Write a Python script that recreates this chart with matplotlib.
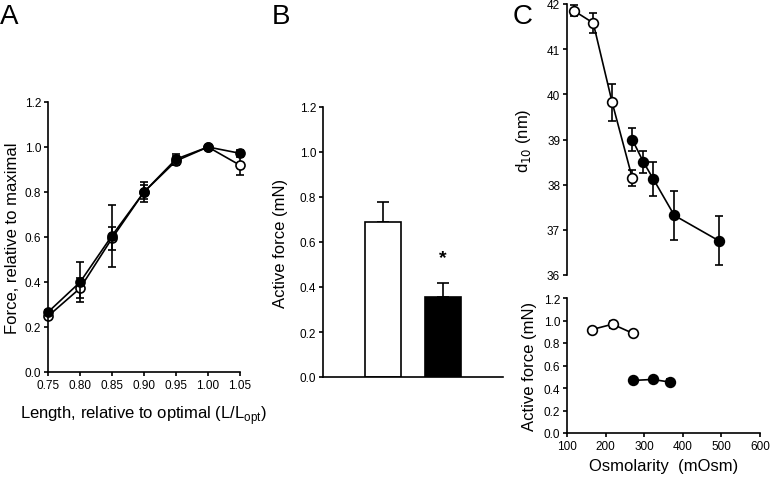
import matplotlib
matplotlib.use("Agg")
import matplotlib.pyplot as plt

plt.rcParams['font.family'] = ['Liberation Sans', 'DejaVu Sans']
plt.rcParams['axes.linewidth'] = 1.2
plt.rcParams['xtick.direction'] = 'out'
plt.rcParams['ytick.direction'] = 'out'
plt.rcParams['xtick.major.size'] = 3
plt.rcParams['ytick.major.size'] = 3
plt.rcParams['xtick.major.width'] = 1.2
plt.rcParams['ytick.major.width'] = 1.2

# Panel A: force-length
len_x = [0.75, 0.80, 0.85, 0.90, 0.95, 1.00, 1.05]
a_open = [0.248, 0.372, 0.594, 0.80, 0.938, 1.0, 0.919]
a_open_err = [0.01, 0.045, 0.05, 0.045, 0.02, 0.0, 0.045]
a_fill = [0.266, 0.399, 0.606, 0.80, 0.946, 1.0, 0.972]
a_fill_err = [0.01, 0.088, 0.138, 0.03, 0.025, 0.0, 0.015]

# Panel B: active force bars
b_vals = [0.69, 0.355]
b_err = [0.09, 0.065]
b_colors = ['white', 'black']

# Panel C top: d10 vs osmolarity
c_open_x = [118, 168, 217, 269]
c_open_y = [41.85, 41.58, 39.82, 38.15]
c_open_err = [0.12, 0.22, 0.4, 0.17]
c_fill_x = [269, 298, 324, 378, 493]
c_fill_y = [39.0, 38.5, 38.12, 37.32, 36.76]
c_fill_err = [0.25, 0.25, 0.38, 0.55, 0.54]

# Panel C bottom: active force vs osmolarity
f_open_x = [165, 218, 270]
f_open_y = [0.92, 0.967, 0.887]
f_open_err = [0.0, 0.03, 0.0]
f_fill_x = [270, 322, 368]
f_fill_y = [0.467, 0.476, 0.452]
f_fill_err = [0.025, 0.025, 0.025]

yt = [0, 0.2, 0.4, 0.6, 0.8, 1.0, 1.2]

W, H = 770, 481
fig = plt.figure(figsize=(7.7, 4.81), dpi=100)


def px_axes(l, t, r, b):
    return fig.add_axes([l / W, 1 - b / H, (r - l) / W, (b - t) / H])


def style(ax):
    ax.spines['top'].set_visible(False)
    ax.spines['right'].set_visible(False)
    ax.tick_params(labelsize=8.5, pad=2)


def series(ax, x, y, err, filled, ms=7):
    ax.errorbar(x, y, yerr=err, fmt='-o', color='black', lw=1.2,
                ms=ms, mfc='black' if filled else 'white', mec='black',
                mew=1.2, ecolor='black', elinewidth=1.2, capsize=2.8,
                capthick=1.2, clip_on=False, zorder=3 if filled else 2)


# A
axA = px_axes(48, 103, 240, 373)
style(axA)
series(axA, len_x, a_open, a_open_err, False, ms=6.5)
series(axA, len_x, a_fill, a_fill_err, True, ms=6.5)
axA.set_xlim(0.75, 1.05)
axA.set_ylim(0, 1.2)
axA.set_xticks(len_x)
axA.set_xticklabels([f"{v:.2f}" for v in len_x])
axA.set_yticks(yt)
axA.set_yticklabels([f"{v:.1f}" for v in yt])
axA.set_ylabel("Force, relative to maximal", fontsize=12, labelpad=3)
axA.set_xlabel("Length, relative to optimal (L/L$_\\mathregular{opt}$)",
               fontsize=12, labelpad=9)

# B
axB = px_axes(323, 108, 503, 378)
style(axB)
axB.bar([1, 2], b_vals, width=0.6, color=b_colors, edgecolor='black',
        linewidth=1.2, zorder=2)
axB.errorbar([1, 2], b_vals, yerr=[[0, 0], b_err], fmt='none',
             ecolor='black', elinewidth=1.2, capsize=4, capthick=1.2, zorder=1)
axB.text(2, b_vals[1] + b_err[1] + 0.11, "*", ha='center', va='center',
         fontsize=14, fontweight='bold')
axB.set_xlim(0, 3)
axB.set_ylim(0, 1.2)
axB.set_xticks([])
axB.set_yticks(yt)
axB.set_yticklabels([f"{v:.1f}" for v in yt])
axB.set_ylabel("Active force (mN)", fontsize=12, labelpad=8)

# C top
axC = px_axes(567, 5, 760, 276)
style(axC)
axC.spines['bottom'].set_visible(False)
series(axC, c_open_x, c_open_y, c_open_err, False)
series(axC, c_fill_x, c_fill_y, c_fill_err, True)
axC.set_xlim(100, 600)
axC.set_ylim(36, 42)
axC.set_xticks([])
axC.set_yticks([36, 37, 38, 39, 40, 41, 42])
axC.set_ylabel("d$_{10}$ (nm)", fontsize=12, labelpad=10)

# C bottom
axD = px_axes(567, 299, 760, 434)
style(axD)
series(axD, f_open_x, f_open_y, f_open_err, False)
series(axD, f_fill_x, f_fill_y, f_fill_err, True)
axD.set_xlim(100, 600)
axD.set_ylim(0, 1.2)
axD.set_xticks([100, 200, 300, 400, 500, 600])
axD.set_yticks(yt)
axD.set_yticklabels([f"{v:.1f}" for v in yt])
axD.set_ylabel("Active force (mN)", fontsize=12, labelpad=5)
axD.set_xlabel("Osmolarity  (mOsm)", fontsize=12, labelpad=4)

# panel letters
for lbl, xp in [("A", 0), ("B", 272), ("C", 513)]:
    fig.text(xp / W, 1 - 4 / H, lbl, fontsize=20, ha='left', va='top')

fig.savefig("out.png", dpi=100)
